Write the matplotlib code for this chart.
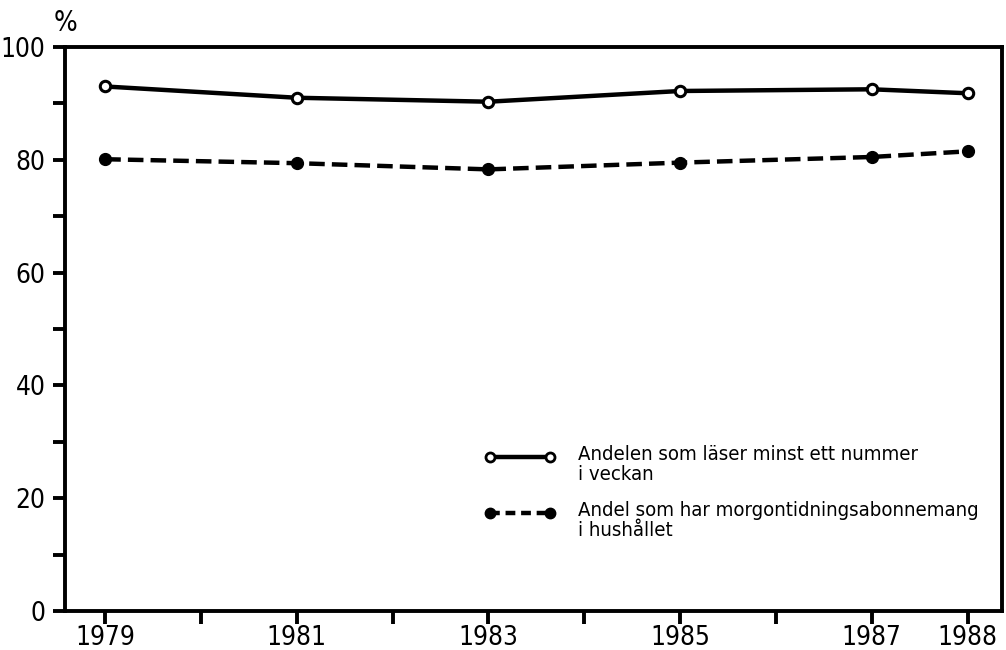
import matplotlib
matplotlib.use("Agg")
import matplotlib.pyplot as plt
from matplotlib.ticker import FixedLocator

plt.rcParams['font.family'] = ['DejaVu Sans']
plt.rcParams['font.stretch'] = 'condensed'

years = [1979, 1981, 1983, 1985, 1987, 1988]
reads_weekly = [93.0, 91.0, 90.3, 92.2, 92.5, 91.8]
subscription = [80.1, 79.4, 78.3, 79.5, 80.5, 81.5]
label_reads = "Andelen som läser minst ett nummer\ni veckan"
label_subs = "Andel som har morgontidningsabonnemang\ni hushållet"
xtick_labels = ["1979", "1981", "1983", "1985", "1987", "1988"]
xminor = [1980, 1982, 1984, 1986]
yticks = [0, 20, 40, 60, 80, 100]
yminor = [10, 30, 50, 70, 90]

fig = plt.figure(figsize=(10.06, 6.5), dpi=100)
ax = fig.add_axes([65/1006, 39/650, 937/1006, 564/650])

ax.plot(years, reads_weekly, color='black', lw=3.2, marker='o', ms=7.5,
        mfc='white', mec='black', mew=2.2, zorder=3)
ax.plot(years, subscription, color='black', lw=3.2, marker='o', ms=8.5,
        mfc='black', mec='black', dashes=(3.5, 1.6), zorder=3)

ax.set_xlim(1978.58, 1988.36)
ax.set_ylim(0, 100)
ax.set_xticks(years)
ax.set_xticklabels(xtick_labels)
ax.xaxis.set_minor_locator(FixedLocator(xminor))
ax.set_yticks(yticks)
ax.yaxis.set_minor_locator(FixedLocator(yminor))
ax.tick_params(axis='both', which='both', direction='out', length=9, width=2.8,
               labelsize=18.8, color='black')
ax.tick_params(axis='x', pad=1)
ax.tick_params(axis='y', pad=5)
for s in ax.spines.values():
    s.set_linewidth(2.8)

ax.text(0.001, 1.0426, "%", transform=ax.transAxes, fontsize=20, ha='center',
        va='center')

# manual legend (handle aligned with the first text line, as in the original)
tr = ax.transAxes
hx = [0.4536, 0.5176]
ax.plot(hx, [0.273, 0.273], transform=tr, color='black', lw=3.2, marker='o', ms=6.5,
        mfc='white', mec='black', mew=2.0, clip_on=False)
ax.text(0.5475, 0.2945, label_reads, transform=tr, fontsize=14.6, ha='left', va='top',
        linespacing=1.08)
ax.plot(hx, [0.1738, 0.1738], transform=tr, color='black', lw=3.2, marker='o', ms=7.5,
        mfc='black', mec='black', dashes=(2.2, 1.3), clip_on=False)
ax.text(0.5475, 0.1953, label_subs, transform=tr, fontsize=14.6, ha='left', va='top',
        linespacing=1.08)

fig.savefig("out.png", dpi=100)
